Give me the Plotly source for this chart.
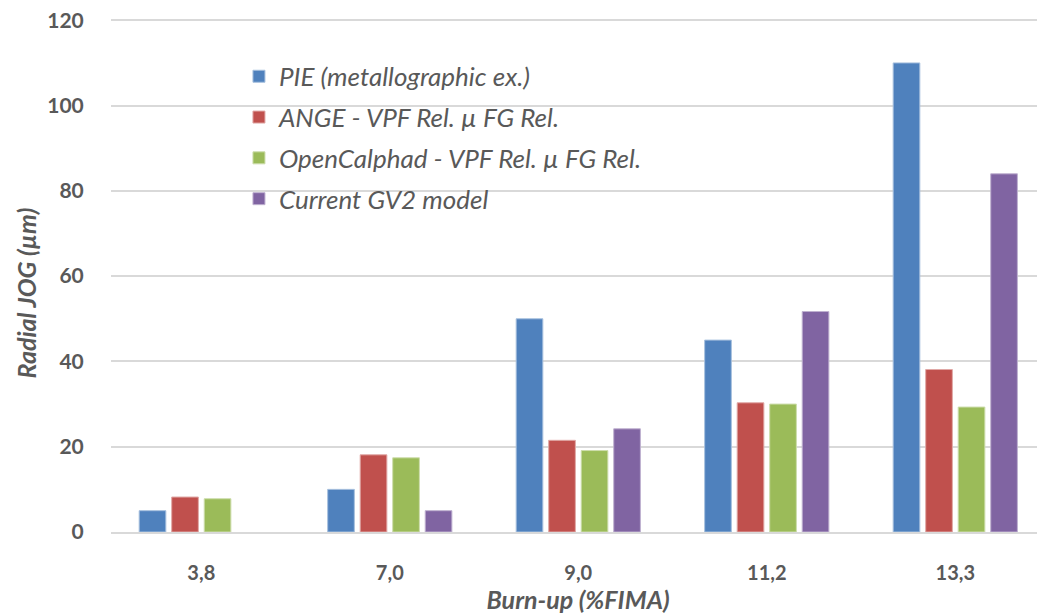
import plotly.graph_objects as go

categories = ["3,8", "7,0", "9,0", "11,2", "13,3"]
series_names = [
    "PIE (metallographic ex.)",
    "ANGE - VPF Rel. µ FG Rel.",
    "OpenCalphad - VPF Rel. µ FG Rel.",
    "Current GV2 model",
]
pie_vals = [5, 10, 50, 45, 110]
ange_vals = [8.2, 18.1, 21.5, 30.3, 38.1]
opencalphad_vals = [7.8, 17.4, 19.1, 30.0, 29.3]
gv2_vals = [None, 5, 24.2, 51.7, 84]
y_ticks = [0, 20, 40, 60, 80, 100, 120]

colors = ["#4F81BD", "#C0504D", "#9BBB59", "#8064A2"]
edge_colors = ["#A7C0DE", "#E0A8A6", "#CDDDAC", "#BFB1D0"]
all_vals = [pie_vals, ange_vals, opencalphad_vals, gv2_vals]

FONT = "Lato, 'Open Sans', sans-serif"
GRAY = "#595959"

fig = go.Figure()
for i, (name, vals) in enumerate(zip(series_names, all_vals)):
    fig.add_trace(go.Bar(
        x=categories, y=vals, name=name,
        marker=dict(color=colors[i], line=dict(color=edge_colors[i], width=1)),
        legendgroup=f"g{i}",
    ))

# page body has an 8px margin, so the figure is sized to end at the window edge
fig.update_layout(
    width=1037, height=608,
    paper_bgcolor="white", plot_bgcolor="white",
    margin=dict(l=103, r=0, t=11, b=84, pad=0),
    barmode="group", bargap=0.31, bargroupgap=0.18,
    font=dict(family=FONT, color=GRAY),
    showlegend=True,
    legend=dict(
        x=0.137, y=0.934, xanchor="left", yanchor="top",
        bgcolor="rgba(255,255,255,0)",
        font=dict(family=FONT, size=26, color=GRAY, style="italic"),
        tracegroupgap=4, itemwidth=30,
    ),
    xaxis=dict(
        type="category", range=[-0.479, 4.476],
        showgrid=False, showline=True, linecolor="#D9D9D9", linewidth=2,
        ticks="outside", ticklen=22, tickcolor="rgba(0,0,0,0)",
        tickfont=dict(family=FONT, size=20, color=GRAY, weight="bold"),
        title=dict(text="<b><i>Burn-up (%FIMA)</i></b>", standoff=8,
                   font=dict(family=FONT, size=25, color=GRAY)),
    ),
    yaxis=dict(
        range=[0, 120.3], tickvals=y_ticks,
        showgrid=True, gridcolor="#D9D9D9", gridwidth=2,
        zeroline=False, showline=False,
        ticks="outside", ticklen=22, tickcolor="rgba(0,0,0,0)",
        ticklabeloverflow="allow",
        tickfont=dict(family=FONT, size=21, color=GRAY, weight="bold"),
    ),
)

fig.add_annotation(
    text="<b><i>Radial JOG (µm)</i></b>", textangle=-90,
    xref="paper", yref="paper", x=-0.091, y=0.465,
    xanchor="center", yanchor="middle", showarrow=False,
    font=dict(family=FONT, size=25, color=GRAY),
)

fig.write_html("out.html")
